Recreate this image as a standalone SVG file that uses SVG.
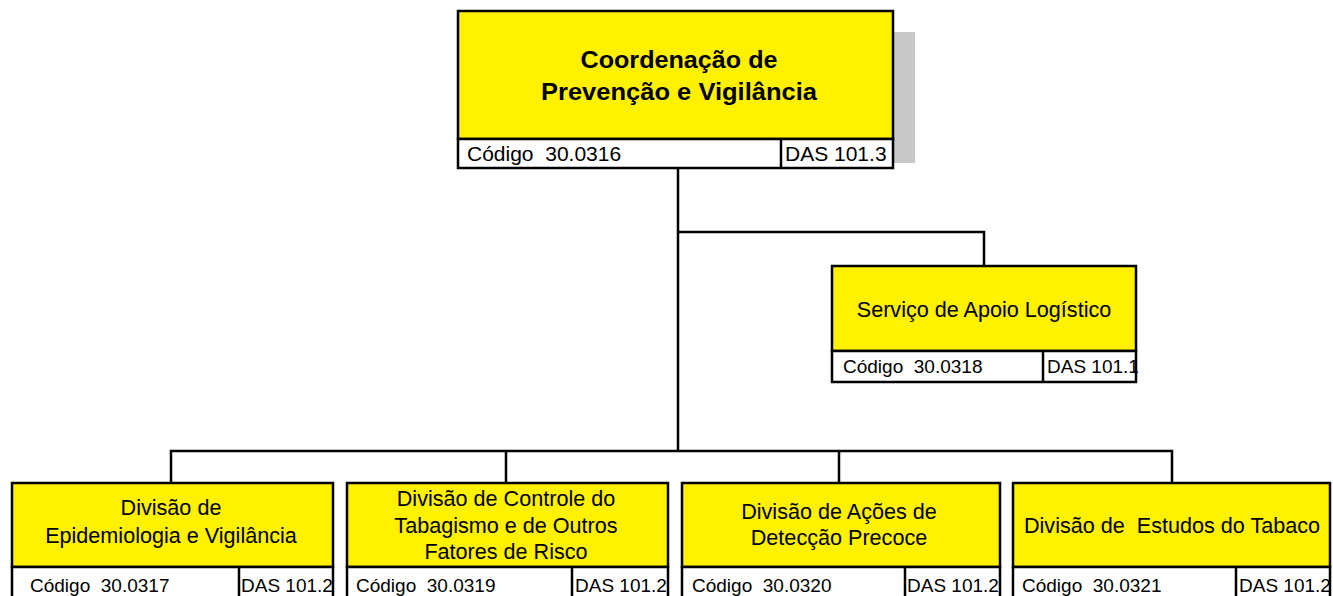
<svg xmlns="http://www.w3.org/2000/svg" width="1333" height="596" viewBox="0 0 1333 596">
<style>
.box{fill:#fff100;stroke:#000;stroke-width:2.5}
.code{fill:#fff;stroke:#000;stroke-width:2.5}
.div{stroke:#000;stroke-width:2.5}
.conn{fill:none;stroke:#000;stroke-width:2.5}
text{font-family:"Liberation Sans",Arial,sans-serif;fill:#000;white-space:pre}
.t{font-size:21.6px;text-anchor:middle}
.tb{font-size:24px;font-weight:bold;text-anchor:middle}
.c{font-size:19px}
.ct{font-size:21px}
</style>
<rect width="1333" height="596" fill="#fff"/>
<g id="connectors">
<path class="conn" d="M678 168V451M678 232H984V266M171 483V451H1172V483M506 451V483M839 451V483"/>
</g>
<g id="coord">
<rect x="893" y="32" width="22" height="131" fill="#c8c8c8"/>
<rect class="box" x="458" y="11" width="435" height="128"/>
<rect class="code" x="458" y="139" width="435" height="29"/>
<line class="div" x1="781" y1="139" x2="781" y2="168"/>
<text class="tb" x="679" y="68" textLength="197" lengthAdjust="spacingAndGlyphs">Coordenação de</text>
<text class="tb" x="679" y="100" textLength="276" lengthAdjust="spacingAndGlyphs">Prevenção e Vigilância</text>
<text class="ct" x="467" y="161">Código  30.0316</text>
<text class="ct" x="785" y="161">DAS 101.3</text>
</g>
<g id="servico">
<rect class="box" x="832" y="266" width="304" height="85"/>
<rect class="code" x="832" y="351" width="304" height="31"/>
<line class="div" x1="1043" y1="351" x2="1043" y2="382"/>
<text class="t" x="984" y="317">Serviço de Apoio Logístico</text>
<text class="c" x="843" y="373">Código  30.0318</text>
<text class="c" x="1047" y="373">DAS 101.1</text>
</g>
<g id="div-epidemiologia">
<rect class="box" x="12" y="483" width="321" height="84"/>
<rect class="code" x="12" y="567" width="321" height="36"/>
<line class="div" x1="239" y1="567" x2="239" y2="600"/>
<text class="t" x="171" y="515">Divisão de</text>
<text class="t" x="171" y="543">Epidemiologia e Vigilância</text>
<text class="c" x="30" y="592">Código  30.0317</text>
<text class="c" x="241" y="592">DAS 101.2</text>
</g>
<g id="div-tabagismo">
<rect class="box" x="347" y="483" width="321" height="84"/>
<rect class="code" x="347" y="567" width="321" height="36"/>
<line class="div" x1="572" y1="567" x2="572" y2="600"/>
<text class="t" x="506" y="506">Divisão de Controle do</text>
<text class="t" x="506" y="533">Tabagismo e de Outros</text>
<text class="t" x="506" y="559">Fatores de Risco</text>
<text class="c" x="356" y="592">Código  30.0319</text>
<text class="c" x="575" y="592">DAS 101.2</text>
</g>
<g id="div-deteccao">
<rect class="box" x="682" y="483" width="318" height="84"/>
<rect class="code" x="682" y="567" width="318" height="36"/>
<line class="div" x1="905" y1="567" x2="905" y2="600"/>
<text class="t" x="839" y="519">Divisão de Ações de</text>
<text class="t" x="839" y="545">Detecção Precoce</text>
<text class="c" x="692" y="592">Código  30.0320</text>
<text class="c" x="907" y="592">DAS 101.2</text>
</g>
<g id="div-tabaco">
<rect class="box" x="1013" y="483" width="317" height="84"/>
<rect class="code" x="1013" y="567" width="317" height="36"/>
<line class="div" x1="1236" y1="567" x2="1236" y2="600"/>
<text class="t" x="1172" y="533">Divisão de  Estudos do Tabaco</text>
<text class="c" x="1022" y="592">Código  30.0321</text>
<text class="c" x="1239" y="592">DAS 101.2</text>
</g>
</svg>
